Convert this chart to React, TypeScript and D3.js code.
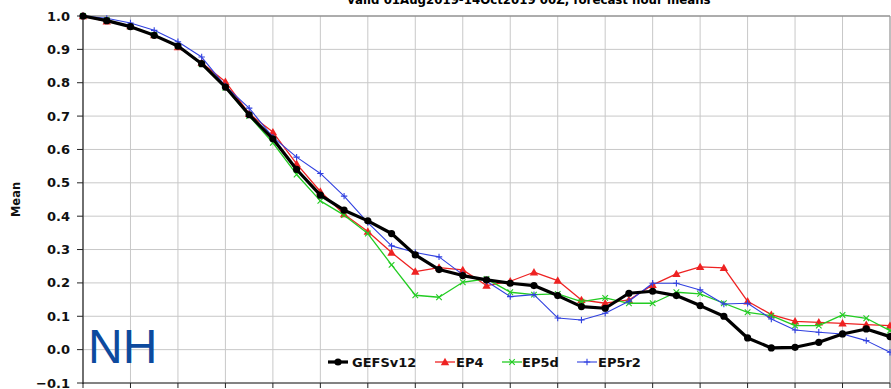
import React from "react";
import * as d3 from "d3";

const hours = [0, 12, 24, 36, 48, 60, 72, 84, 96, 108, 120, 132, 144, 156, 168, 180, 192, 204, 216, 228, 240, 252, 264, 276, 288, 300, 312, 324, 336, 348, 360, 372, 384, 396, 408];

const gefsv12 = [1.0, 0.986, 0.968, 0.942, 0.91, 0.857, 0.787, 0.704, 0.632, 0.54, 0.463, 0.418, 0.386, 0.348, 0.284, 0.24, 0.222, 0.209, 0.199, 0.192, 0.162, 0.129, 0.124, 0.169, 0.175, 0.162, 0.132, 0.1, 0.035, 0.005, 0.007, 0.022, 0.047, 0.062, 0.039];
const ep4 = [1.0, 0.984, 0.97, 0.943, 0.907, 0.86, 0.803, 0.707, 0.652, 0.557, 0.474, 0.406, 0.354, 0.291, 0.234, 0.246, 0.239, 0.192, 0.205, 0.232, 0.207, 0.149, 0.139, 0.149, 0.194, 0.227, 0.248, 0.245, 0.145, 0.105, 0.085, 0.082, 0.079, 0.075, 0.072];
const ep5d = [1.0, 0.988, 0.968, 0.943, 0.91, 0.855, 0.785, 0.7, 0.62, 0.525, 0.446, 0.403, 0.348, 0.254, 0.163, 0.157, 0.202, 0.212, 0.172, 0.165, 0.167, 0.144, 0.155, 0.139, 0.139, 0.172, 0.167, 0.139, 0.112, 0.102, 0.072, 0.072, 0.104, 0.094, 0.057];
const ep5r2 = [1.0, 0.993, 0.979, 0.957, 0.923, 0.877, 0.79, 0.724, 0.637, 0.577, 0.528, 0.46, 0.381, 0.311, 0.291, 0.278, 0.225, 0.205, 0.159, 0.165, 0.095, 0.089, 0.109, 0.145, 0.199, 0.199, 0.179, 0.137, 0.139, 0.092, 0.059, 0.052, 0.047, 0.027, -0.008];

const yTicks = [-0.1, 0.0, 0.1, 0.2, 0.3, 0.4, 0.5, 0.6, 0.7, 0.8, 0.9, 1.0];
const seriesNames = ["GEFSv12", "EP4", "EP5d", "EP5r2"];
const titleText = "valid 01Aug2019-14Oct2019 00Z, forecast hour means";

const W = 891, H = 389;
const left = 83, right = 890, top = 16, bottom = 383;

export default function App() {
  const x = d3.scaleLinear().domain([hours[0], hours[hours.length - 1]]).range([left, right]);
  const y = d3.scaleLinear().domain([-0.1, 1.0]).range([bottom, top]);
  const line = d3.line<number>().x((_, i) => x(hours[i])).y((d) => y(d));
  const gridHours = hours.filter((_, i) => i % 2 === 0);

  const series = [
    { name: seriesNames[0], data: gefsv12, color: "#000000", width: 3.2, marker: "circle" },
    { name: seriesNames[1], data: ep4, color: "#ee2222", width: 1.3, marker: "triangle" },
    { name: seriesNames[2], data: ep5d, color: "#22cc22", width: 1.3, marker: "x" },
    { name: seriesNames[3], data: ep5r2, color: "#3040e0", width: 1.1, marker: "plus" },
  ];
  const drawOrder = [1, 2, 3, 0];

  const marker = (m: string, cx: number, cy: number, color: string, key: string) => {
    if (m === "circle") return <circle key={key} cx={cx} cy={cy} r={3.6} fill={color} />;
    if (m === "triangle") {
      const s = 4.2;
      return <path key={key} d={`M${cx},${cy - s}L${cx + s},${cy + s * 0.75}L${cx - s},${cy + s * 0.75}Z`} fill={color} />;
    }
    if (m === "x") {
      const s = 2.8;
      return <path key={key} d={`M${cx - s},${cy - s}L${cx + s},${cy + s}M${cx - s},${cy + s}L${cx + s},${cy - s}`} stroke={color} strokeWidth={1.1} />;
    }
    const s = 3.2;
    return <path key={key} d={`M${cx - s},${cy}L${cx + s},${cy}M${cx},${cy - s}L${cx},${cy + s}`} stroke={color} strokeWidth={1.1} />;
  };

  const legendItems = [
    { lx: 328, tx: 352 },
    { lx: 435, tx: 456 },
    { lx: 502, tx: 522 },
    { lx: 577, tx: 598 },
  ];

  return (
    <svg width={W} height={H} style={{ position: "absolute", left: 0, top: 0, background: "#fff" }} fontFamily="DejaVu Sans, sans-serif">
      <rect x={0} y={0} width={W} height={H} fill="#fff" />
      <text x={529} y={4} textAnchor="middle" fontSize={11.8} fontWeight="bold" fill="#000">{titleText}</text>
      {/* grid */}
      {yTicks.map((t) => (
        <line key={"gy" + t} x1={left} x2={right} y1={y(t)} y2={y(t)} stroke="#c8c8c8" strokeWidth={1} />
      ))}
      {gridHours.map((h) => (
        <line key={"gx" + h} x1={x(h)} x2={x(h)} y1={top} y2={bottom} stroke="#c8c8c8" strokeWidth={1} />
      ))}
      {/* frame */}
      <line x1={left} x2={right} y1={top} y2={top} stroke="#777" strokeWidth={1} />
      <line x1={right} x2={right} y1={top} y2={bottom} stroke="#999" strokeWidth={1} />
      <line x1={left} x2={left} y1={top} y2={bottom + 1} stroke="#222" strokeWidth={1.2} />
      <line x1={left} x2={right} y1={bottom} y2={bottom} stroke="#222" strokeWidth={1.2} />
      {gridHours.map((h) => (
        <line key={"tx" + h} x1={x(h)} x2={x(h)} y1={bottom} y2={bottom + 5} stroke="#222" strokeWidth={1} />
      ))}
      {yTicks.map((t) => (
        <g key={"ty" + t}>
          <line x1={left - 6} x2={left} y1={y(t)} y2={y(t)} stroke="#222" strokeWidth={1} />
          <text x={70} y={y(t) + 4.5} textAnchor="end" fontSize={13} fontWeight="bold" fill="#111">
            {t < 0 ? "\u2212" + Math.abs(t).toFixed(1) : t.toFixed(1)}
          </text>
        </g>
      ))}
      <text transform={`translate(20,${(top + bottom) / 2}) rotate(-90)`} textAnchor="middle" fontSize={11.5} fontWeight="bold" fill="#111">Mean</text>
      {/* series */}
      {drawOrder.map((si) => {
        const s = series[si];
        return (
          <g key={s.name}>
            <path d={line(s.data) || ""} fill="none" stroke={s.color} strokeWidth={s.width} strokeLinejoin="round" />
            {s.data.map((v, i) => marker(s.marker, x(hours[i]), y(v), s.color, s.name + i))}
          </g>
        );
      })}
      {/* NH label */}
      <text x={88} y={363} fontSize={48} fontFamily="Liberation Sans, Arial, sans-serif" fill="#0d4a9e">NH</text>
      {/* legend */}
      {series.map((s, i) => {
        const it = legendItems[i];
        const ly = 362;
        return (
          <g key={"lg" + s.name}>
            <line x1={it.lx} x2={it.lx + 20} y1={ly} y2={ly} stroke={s.color} strokeWidth={s.width} />
            {marker(s.marker, it.lx + 10, ly, s.color, "lm" + i)}
            <text x={it.tx} y={ly + 5} fontSize={13} fontWeight="bold" fill="#111">{s.name}</text>
          </g>
        );
      })}
    </svg>
  );
}
